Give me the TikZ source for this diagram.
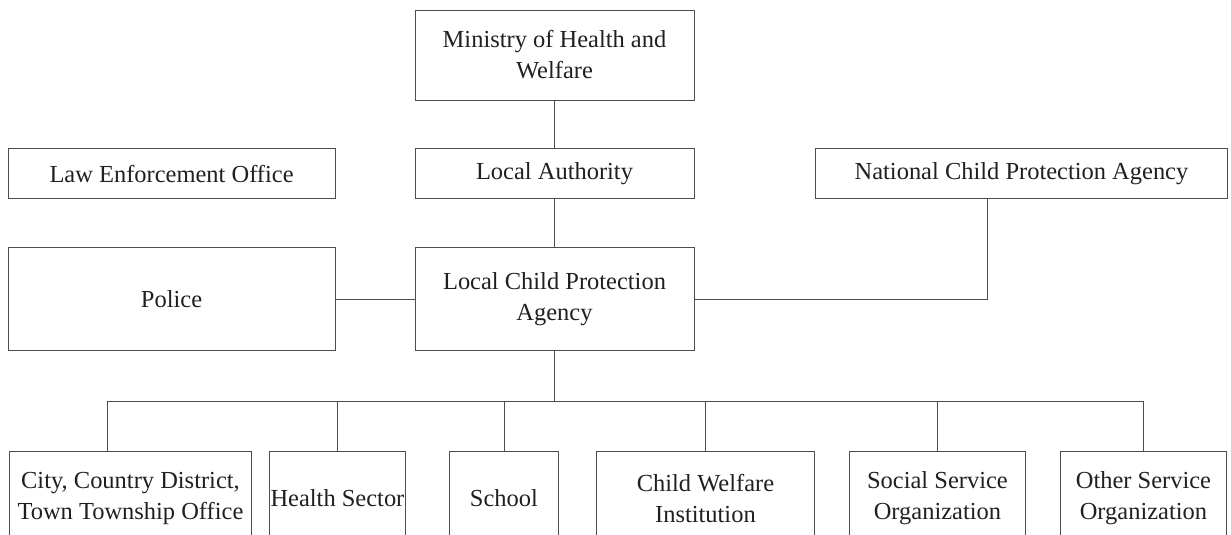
\documentclass[tikz,border=0pt]{standalone}
\usepackage{fontspec}
\setmainfont{Liberation Serif}
\usetikzlibrary{positioning}
\definecolor{ink}{HTML}{231F20}
\definecolor{rule}{HTML}{4D4D4D}

\begin{document}
\begin{tikzpicture}[x=0.025cm, y=-0.025cm,
  unit/.style={draw=rule, line width=0.6pt, text=ink, align=center,
    inner sep=0pt, font=\fontsize{17.4}{22}\selectfont},
  leaf/.style={unit, anchor=north west, minimum height=2.35cm},
  link/.style={draw=rule, line width=0.6pt},
  node distance=1.2cm and 1.975cm]
  \useasboundingbox (0,0) rectangle (1231,534);
  \clip (0,0) rectangle (1231,534);

  \node [unit, minimum width=6.975cm, minimum height=2.25cm] (mohw) at (554.5,55)
    {Ministry of Health and\\Welfare};
  \node [unit, minimum width=6.975cm, minimum height=1.25cm, below=of mohw] (la)
    {Local Authority};
  \node [unit, minimum width=8.175cm, minimum height=1.25cm, left=of la] (leo)
    {Law Enforcement Office};
  \node [unit, minimum width=10.275cm, minimum height=1.25cm, right=3.025cm of la] (ncpa)
    {National Child Protection Agency};
  \node [unit, minimum width=6.975cm, minimum height=2.575cm, below=of la] (lcpa)
    {Local Child Protection\\Agency};
  \node [unit, minimum width=8.175cm, minimum height=2.575cm, left=of lcpa] (police)
    {Police};

  \node [leaf, minimum width=6.05cm] (city) at (9,451)
    {City, Country District,\\Town Township Office};
  \node [leaf, minimum width=3.4cm] (health) at (269,451)
    {Health Sector};
  \node [leaf, minimum width=2.725cm] (school) at (449,451)
    {School};
  \node [leaf, minimum width=5.45cm] (cwi) at (596,451)
    {Child Welfare\\Institution};
  \node [leaf, minimum width=4.4cm] (sso) at (849,451)
    {Social Service\\Organization};
  \node [leaf, minimum width=4.15cm] (oso) at (1060,451)
    {Other Service\\Organization};

  \coordinate (bus) at ([yshift=-1.25cm]lcpa.south);

  \path[link]
    (mohw) edge (la)
    (la) edge (lcpa)
    (police) edge (lcpa)
    (lcpa) edge (bus);
  \draw[link] (lcpa.east) -| ([xshift=-0.84cm]ncpa.south);
  \draw[link] (bus) -| ([xshift=-0.575cm]city.north);
  \draw[link] (bus) -| (health.north);
  \draw[link] (bus) -| (school.north);
  \draw[link] (bus) -| (cwi.north);
  \draw[link] (bus) -| (sso.north);
  \draw[link] (bus) -| (oso.north);
\end{tikzpicture}
\end{document}
